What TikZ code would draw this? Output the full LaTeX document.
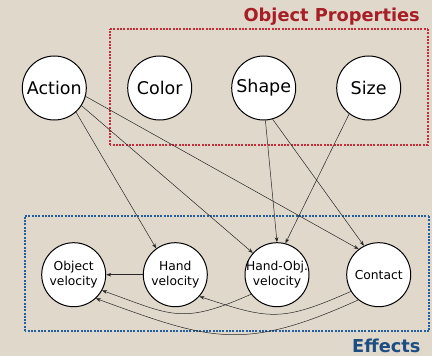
\documentclass[tikz,border=0pt]{standalone}
\usepackage{fontspec}
\setmainfont{DejaVu Sans}
\usetikzlibrary{arrows.meta}
\definecolor{paper}{RGB}{224,216,203}
\definecolor{propred}{RGB}{166,30,38}
\definecolor{boxred}{RGB}{200,44,56}
\definecolor{effblue}{RGB}{28,78,130}
\definecolor{boxblue}{RGB}{34,95,160}
\tikzset{
  state/.style={circle, draw=black, fill=white, line width=1pt,
    minimum size=64pt, inner sep=-10pt},
  bigtxt/.style={font=\fontsize{17.5}{20}\selectfont},
  smalltxt/.style={font=\fontsize{12.3}{15}\selectfont, align=center},
  link/.style={draw=black!85, line width=0.5pt,
    -{Stealth[length=5pt,width=3.6pt]}},
  groupbox/.style={line width=1.3pt, dash pattern=on 2pt off 1.3pt},
  heading/.style={font=\fontsize{17.8}{20}\selectfont\bfseries, inner sep=0pt}
}
\begin{document}
\begin{tikzpicture}[x=1pt,y=-1pt]
  % paper background and frame of the picture
  \fill[paper] (0,0) rectangle (432,356);
  \useasboundingbox (0,0) rectangle (432,356);

  % group frames, one side at a time
  \coordinate (pNW) at (110,29);  \coordinate (pNE) at (428,29);
  \coordinate (pSW) at (110,145); \coordinate (pSE) at (428,145);
  \coordinate (eNW) at (25,216);  \coordinate (eNE) at (429,216);
  \coordinate (eSW) at (25,331);  \coordinate (eSE) at (429,331);
  \draw[groupbox, draw=boxred] (pNW) -- (pNE);
  \draw[groupbox, draw=boxred] (pNE) -- (pSE);
  \draw[groupbox, draw=boxred] (pSE) -- (pSW);
  \draw[groupbox, draw=boxred] (pSW) -- (pNW);
  \draw[groupbox, draw=boxblue] (eNW) -- (eNE);
  \draw[groupbox, draw=boxblue] (eNE) -- (eSE);
  \draw[groupbox, draw=boxblue] (eSE) -- (eSW);
  \draw[groupbox, draw=boxblue] (eSW) -- (eNW);

  % group headings
  \node[heading, text=propred, anchor=base east] (ophead) at (420,21.7) {Object Properties};
  \node[heading, text=effblue, anchor=base east] (effhead) at (420.7,352) {Effects};

  % causes
  \node[state, bigtxt] (action) at (54.3,88) {Action};
  \node[state, bigtxt] (color)  at (159.7,88) {Color};
  \node[state, bigtxt] (shape)  at (263.7,88) {Shape};
  \node[state, bigtxt] (size)   at (368.7,88) {Size};

  % effects
  \node[state, smalltxt] (ov)      at (73.7,274.7)  {Object\\velocity};
  \node[state, smalltxt] (hv)      at (175.3,274.7) {Hand\\velocity};
  \node[state, smalltxt] (hov)     at (277,274.7)   {Hand-Obj.\\velocity};
  \node[state, smalltxt] (contact) at (378.7,274.7) {Contact};

  % straight dependencies
  \draw[link] (action.-48.3) -- (hv.126.2);
  \draw[link] (action.-33.4) -- (hov.138.3);
  \draw[link] (action.-15.6) -- (contact.128.8);
  \draw[link] (shape.-87.7) -- (hov.90.5);
  \draw[link] (shape.-74) -- (contact.117);
  \draw[link] (size.-127.4) -- (hov.75);
  \draw[link] (hv.180) -- (ov.0);

  % curved dependencies among effects
  \draw[link] (hov.217.5) .. controls +(-70,31) and +(70,25) .. (ov.-29);
  \draw[link] (contact.211.5) .. controls +(-70,31) and +(70,23) .. (hv.-42.6);
  \draw[link] (contact.231) .. controls +(-115,52) and +(115,42) .. (ov.-47.3);
\end{tikzpicture}
\end{document}
